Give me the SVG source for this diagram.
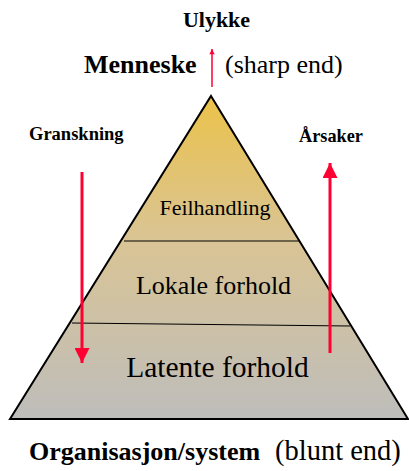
<svg xmlns="http://www.w3.org/2000/svg" width="409" height="471" viewBox="0 0 409 471">
<style>
text{font-family:"Liberation Serif","Times New Roman",serif;fill:#000}
.b{font-weight:bold}
.arr{stroke:#FF0033;fill:none}
</style>
<defs>
<linearGradient id="g" x1="0" y1="96" x2="0" y2="419" gradientUnits="userSpaceOnUse">
<stop offset="0" stop-color="#EBC24A"/>
<stop offset="0.45" stop-color="#D9C495"/>
<stop offset="1" stop-color="#BEBDBB"/>
</linearGradient>
<marker id="ah" viewBox="0 0 10 10" refX="10" refY="5" markerWidth="5" markerHeight="5" markerUnits="strokeWidth" orient="auto">
<path d="M0,0 L10,5 L0,10 Z" fill="#FF0033"/>
</marker>
<marker id="ahs" viewBox="0 0 10 10" refX="10" refY="5" markerWidth="4.5" markerHeight="3.5" markerUnits="strokeWidth" orient="auto">
<path d="M0,0 L10,5 L0,10 Z" fill="#FF0033"/>
</marker>
</defs>
<g id="pyramid">
<polygon points="211,96 408,419 10,419" fill="url(#g)" stroke="#000" stroke-width="2"/>
<line x1="124" y1="241" x2="300" y2="241" stroke="#000" stroke-width="1.2"/>
<line x1="72" y1="323" x2="350" y2="326" stroke="#000" stroke-width="1.2"/>
</g>
<g id="feilhandling"><text x="215" y="215" font-size="22" text-anchor="middle">Feilhandling</text></g>
<g id="lokale"><text x="213.5" y="294" font-size="26" text-anchor="middle">Lokale forhold</text></g>
<g id="latente"><text x="217.5" y="377" font-size="29.5" text-anchor="middle">Latente forhold</text></g>
<g id="ulykke"><text x="216.5" y="27" font-size="22" class="b" text-anchor="middle">Ulykke</text></g>
<g id="menneske"><text x="84" y="73" font-size="26" class="b">Menneske</text>
<text x="225" y="73" font-size="26">(sharp end)</text></g>
<g id="granskning"><text x="29" y="140" font-size="18.5" class="b">Granskning</text></g>
<g id="arsaker"><text x="299" y="142" font-size="18.3" class="b">Årsaker</text></g>
<g id="organisasjon"><text x="29" y="460" font-size="26" class="b">Organisasjon/system</text>
<text x="275" y="460" font-size="28.5">(blunt end)</text></g>
<g id="connectors">
<line class="arr" x1="212" y1="87" x2="212" y2="49" stroke-width="1.5" marker-end="url(#ahs)"/>
<line class="arr" x1="82" y1="172" x2="82" y2="363" stroke-width="3" marker-end="url(#ah)"/>
<line class="arr" x1="330" y1="353" x2="330" y2="163" stroke-width="3" marker-end="url(#ah)"/>
</g>
</svg>
